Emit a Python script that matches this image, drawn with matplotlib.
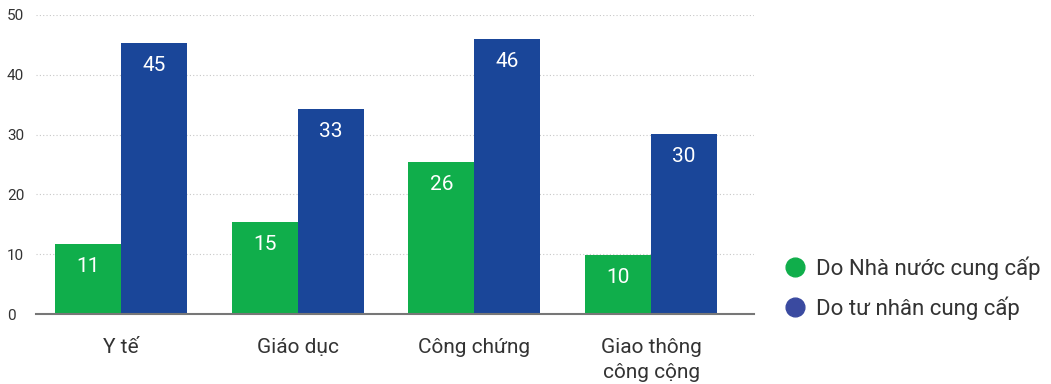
import matplotlib.pyplot as plt
from matplotlib.lines import Line2D
import numpy as np

categories = ["Y tế", "Giáo dục", "Công chứng", "Giao thông\ncông cộng"]
state_values = [11.7, 15.4, 25.4, 9.9]
private_values = [45.3, 34.3, 46.0, 30.1]
state_labels = ["11", "15", "26", "10"]
private_labels = ["45", "33", "46", "30"]
series_names = ["Do Nhà nước cung cấp", "Do tư nhân cung cấp"]

green = "#10ae4b"
blue = "#1a4699"
text_color = "#333333"

plt.rcParams['font.family'] = ['Roboto', 'DejaVu Sans']

fig = plt.figure(figsize=(10.51, 3.84), dpi=100)
ax = fig.add_axes([36 / 1051, 1 - 314 / 384, 718 / 1051, 299 / 384])

x = np.arange(len(categories))
w = 0.3735
b1 = ax.bar(x - w / 2, state_values, w, color=green, zorder=3)
b2 = ax.bar(x + w / 2, private_values, w, color=blue, zorder=3)

for bars, labels in [(b1, state_labels), (b2, private_labels)]:
    for rect, lab in zip(bars, labels):
        ax.annotate(lab, (rect.get_x() + rect.get_width() / 2, rect.get_height()),
                    xytext=(0, -16), textcoords='offset points',
                    ha='center', va='center', color='white', fontsize=15, zorder=4)

ax.set_xlim(-0.481, 3.582)
ax.set_ylim(0, 50)
ax.set_yticks([0, 10, 20, 30, 40, 50])
ax.yaxis.grid(True, color='#c8c8c8', linestyle=(0, (1, 2)), linewidth=0.8, zorder=0)
for s in ['top', 'right', 'left']:
    ax.spines[s].set_visible(False)
ax.spines['bottom'].set_color('#777777')
ax.spines['bottom'].set_linewidth(1.5)
ax.spines['bottom'].set_zorder(5)

ax.tick_params(axis='y', length=0, pad=21, labelsize=11, labelcolor=text_color)
for lab in ax.get_yticklabels():
    lab.set_ha('left')
ax.set_xticks(x)
ax.set_xticklabels(categories, fontsize=15, color=text_color, linespacing=1.45)
ax.tick_params(axis='x', length=0, pad=17)

handles = [Line2D([], [], marker='o', linestyle='', markersize=13.5, color=green),
           Line2D([], [], marker='o', linestyle='', markersize=13.5, color='#3a4aa0')]
leg = fig.legend(handles, series_names, loc='center left', bbox_to_anchor=(775 / 1051, 1 - 288 / 384),
                 frameon=False, fontsize=16, handletextpad=0.45, labelspacing=0.75,
                 handlelength=1.0, borderaxespad=0)
for t in leg.get_texts():
    t.set_color(text_color)

fig.savefig('out.png', dpi=100)
